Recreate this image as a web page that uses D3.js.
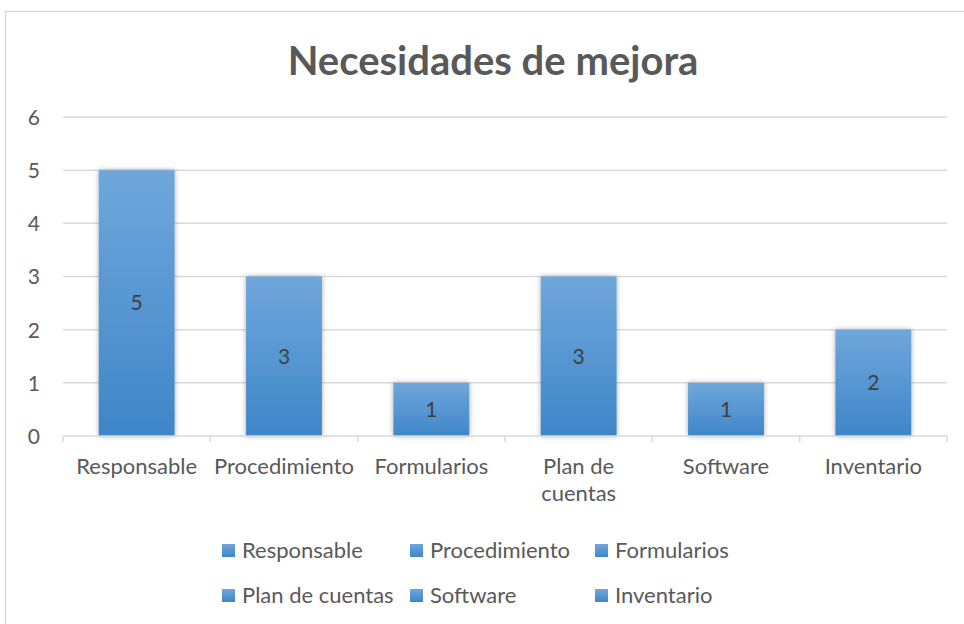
<!DOCTYPE html>
<html>
<head>
<meta charset="utf-8">
<script src="https://cdn.jsdelivr.net/npm/d3@7/dist/d3.min.js"></script>
<style>
  body { margin: 0; background: #fff; }
  text { font-family: Lato, "Open Sans", sans-serif; fill: #595959; }
</style>
</head>
<body>
<div id="chart"></div>
<script>
var categories = ["Responsable", "Procedimiento", "Formularios", "Plan de cuentas", "Software", "Inventario"];
var values = [5, 3, 1, 3, 1, 2];
var yTicks = [0, 1, 2, 3, 4, 5, 6];

var width = 964, height = 624;
var margin = { left: 63, right: 17, top: 117, bottom: 188 };

var svg = d3.select("#chart").append("svg")
  .attr("width", width)
  .attr("height", height);

var defs = svg.append("defs");
var grad = defs.append("linearGradient")
  .attr("id", "barGrad")
  .attr("x1", 0).attr("y1", 0).attr("x2", 0).attr("y2", 1);
grad.append("stop").attr("offset", "0%").attr("stop-color", "#6fa7db");
grad.append("stop").attr("offset", "100%").attr("stop-color", "#3f86c8");

var shadow = defs.append("filter").attr("id", "shadow")
  .attr("x", "-20%").attr("y", "-20%").attr("width", "140%").attr("height", "140%");
shadow.append("feDropShadow")
  .attr("dx", 0).attr("dy", 0).attr("stdDeviation", 2.5)
  .attr("flood-color", "#000").attr("flood-opacity", 0.35);

var legGrad = defs.append("linearGradient")
  .attr("id", "legGrad")
  .attr("x1", 0).attr("y1", 0).attr("x2", 0).attr("y2", 1);
legGrad.append("stop").attr("offset", "0%").attr("stop-color", "#6fa7db");
legGrad.append("stop").attr("offset", "100%").attr("stop-color", "#3f86c8");

// chart frame
svg.append("rect")
  .attr("x", 5.5).attr("y", 11.5)
  .attr("width", width).attr("height", height)
  .attr("fill", "#fff")
  .attr("stroke", "#d9d9d9")
  .attr("stroke-width", 1.5);

var x = d3.scaleBand()
  .domain(categories)
  .range([margin.left, width - margin.right])
  .paddingInner(0.485)
  .paddingOuter(0.2425);

var y = d3.scaleLinear()
  .domain([0, 6])
  .range([height - margin.bottom, margin.top]);

// title
svg.append("text")
  .attr("x", 493).attr("y", 75)
  .attr("text-anchor", "middle")
  .style("font-size", "40px")
  .style("font-weight", "bold")
  .text("Necesidades de mejora");

// gridlines
svg.append("g")
  .selectAll("line")
  .data(yTicks.filter(function (d) { return d > 0; }))
  .enter().append("line")
  .attr("x1", margin.left).attr("x2", width - margin.right)
  .attr("y1", function (d) { return y(d); })
  .attr("y2", function (d) { return y(d); })
  .attr("stroke", "#d9d9d9")
  .attr("stroke-width", 1.5);

// y axis labels
var yAxis = d3.axisLeft(y).tickValues(yTicks).tickFormat(d3.format("d")).tickSize(0).tickPadding(23);
var yg = svg.append("g")
  .attr("transform", "translate(" + margin.left + ",0)")
  .call(yAxis);
yg.select(".domain").remove();
yg.selectAll("text").style("font-size", "21px").attr("fill", "#595959").attr("dy", "0.35em");

// bars
var bars = svg.append("g").selectAll("g")
  .data(values)
  .enter().append("g");

bars.append("rect")
  .attr("x", function (d, i) { return x(categories[i]); })
  .attr("y", function (d) { return y(d); })
  .attr("width", x.bandwidth())
  .attr("height", function (d) { return y(0) - y(d); })
  .attr("fill", "url(#barGrad)")
  .attr("filter", "url(#shadow)");

bars.append("text")
  .attr("x", function (d, i) { return x(categories[i]) + x.bandwidth() / 2; })
  .attr("y", function (d) { return (y(d) + y(0)) / 2; })
  .attr("dy", "0.35em")
  .attr("text-anchor", "middle")
  .style("font-size", "21px")
  .style("fill", "#404040")
  .text(function (d) { return d; });

// x axis line and ticks
var xBounds = d3.range(categories.length + 1).map(function (i) { return margin.left + i * (width - margin.right - margin.left) / categories.length; });
var xa = svg.append("g");
xa.append("line")
  .attr("x1", margin.left).attr("x2", width - margin.right)
  .attr("y1", y(0)).attr("y2", y(0))
  .attr("stroke", "#d9d9d9").attr("stroke-width", 1.5);
xa.selectAll("line.tick")
  .data(xBounds)
  .enter().append("line")
  .attr("class", "tick")
  .attr("x1", function (d) { return d; }).attr("x2", function (d) { return d; })
  .attr("y1", y(0)).attr("y2", y(0) + 6)
  .attr("stroke", "#d9d9d9").attr("stroke-width", 1.5);

// x labels (wrap long ones)
var xLabels = xa.selectAll("text.xl")
  .data(categories)
  .enter().append("text")
  .attr("class", "xl")
  .attr("text-anchor", "middle")
  .style("font-size", "22px")
  .attr("x", function (d) { return x(d) + x.bandwidth() / 2; })
  .attr("y", y(0) + 38);
xLabels.each(function (d) {
  var t = d3.select(this);
  var lines = d === "Plan de cuentas" ? ["Plan de", "cuentas"] : [d];
  lines.forEach(function (l, k) {
    t.append("tspan")
      .attr("x", x(d) + x.bandwidth() / 2)
      .attr("dy", k === 0 ? 0 : 27)
      .text(l);
  });
});

// legend
var legendCols = [222, 410, 595];
var legendRows = [550, 595];
var legend = svg.append("g").selectAll("g")
  .data(categories)
  .enter().append("g")
  .attr("transform", function (d, i) {
    return "translate(" + legendCols[i % 3] + "," + legendRows[Math.floor(i / 3)] + ")";
  });
legend.append("rect")
  .attr("x", 0).attr("y", -6)
  .attr("width", 13).attr("height", 13)
  .attr("fill", "url(#legGrad)");
legend.append("text")
  .attr("x", 20).attr("y", 0)
  .attr("dy", "0.35em")
  .style("font-size", "22px")
  .text(function (d) { return d; });
</script>
</body>
</html>
